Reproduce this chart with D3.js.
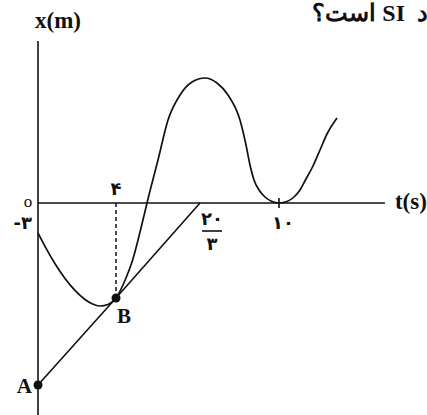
<!DOCTYPE html>
<html>
<head>
<meta charset="utf-8">
<script src="https://cdn.jsdelivr.net/npm/d3@7/dist/d3.min.js"></script>
<style>
  html, body { margin: 0; padding: 0; background: #fff; overflow: hidden; }
  svg { display: block; }
</style>
</head>
<body>
<script>
// ---- data ----
const curveT = [0, 0.359, 0.872, 1.385, 1.897, 2.41, 2.769, 3.179, 3.59, 4, 4.317, 4.508, 4.794, 4.984, 5.333, 5.651, 6.032, 6.413, 6.878, 7.384, 7.848, 8.354, 8.608, 8.776, 8.945, 9.156, 9.409, 9.705, 10, 10.338, 10.633, 10.886, 11.139, 11.435, 11.73, 12.025, 12.447];
const curveX = [-3, -4.34, -6.07, -7.54, -8.74, -9.65, -10.07, -10.3, -10.15, -9.5, -7.5, -5.9, -2.5, 0, 4.3, 8.3, 10.8, 12.1, 12.5, 12, 10.8, 8.3, 5.8, 3.8, 2.3, 1.3, 0.6, 0.15, 0, 0.15, 0.6, 1.3, 2.4, 3.7, 5.3, 6.9, 8.5];
const tangentT = [0, 4, 20/3];
const tangentX = [-18.2, -9.5, 0];
const pointNames = ["A", "B"];
const pointT = [0, 4];
const pointX = [-18.2, -9.5];
const tickT = [4, 20/3, 10];
const tickLabelsT = ["۴", "۲۰/۳", "۱۰"];
const tickX = [0, -3];
const tickLabelsX = ["o", "-۳"];
const axisRangeT = [0, 14.47];
const axisRangeX = [-21.5, 16.2];

const W = 427, H = 415;
const svg = d3.select("body").append("svg").attr("width", W).attr("height", H);

// schematic (not to scale) time axis, piecewise linear
const x = d3.scaleLinear().domain([0, 4, 20/3, 10]).range([38, 116, 200, 279]);
const y = d3.scaleLinear().domain([0, -3]).range([203, 233]);

const ink = "#111";
const serif = "'Liberation Serif', 'DejaVu Serif', serif";
const fa = "'DejaVu Sans', 'Noto Sans', sans-serif";

// title fragment (RTL, cut at the right edge)
svg.append("text")
  .attr("x", 428).attr("y", 21)
  .attr("direction", "rtl")
  .style("direction", "rtl")
  .style("white-space", "pre")
  .attr("text-anchor", "start")
  .attr("font-family", serif)
  .attr("font-weight", "bold")
  .attr("font-size", 24)
  .attr("fill", ink)
  .text("د  SI است؟");

// axes
svg.append("line")
  .attr("x1", x(0)).attr("x2", x(0))
  .attr("y1", y(axisRangeX[1])).attr("y2", y(axisRangeX[0]))
  .attr("stroke", ink).attr("stroke-width", 1.6);
svg.append("line")
  .attr("x1", x(axisRangeT[0])).attr("x2", x(axisRangeT[1]))
  .attr("y1", y(0)).attr("y2", y(0))
  .attr("stroke", ink).attr("stroke-width", 1.6);

// axis titles
svg.append("text")
  .attr("x", x(0) - 3).attr("y", y(axisRangeX[1]) - 13)
  .attr("font-family", serif).attr("font-weight", "bold").attr("font-size", 23)
  .attr("fill", ink).text("x(m)");
svg.append("text")
  .attr("x", x(axisRangeT[1]) + 10).attr("y", y(0) + 6)
  .attr("font-family", serif).attr("font-weight", "bold").attr("font-size", 23)
  .attr("fill", ink).text("t(s)");

// tick at t = 10
svg.append("line")
  .attr("x1", x(10)).attr("x2", x(10))
  .attr("y1", y(0) - 5).attr("y2", y(0) + 5)
  .attr("stroke", ink).attr("stroke-width", 1.6);

// dashed guide at t = 4
svg.append("line")
  .attr("x1", x(4)).attr("x2", x(4))
  .attr("y1", y(0)).attr("y2", y(pointX[1]))
  .attr("stroke", ink).attr("stroke-width", 1.5)
  .attr("stroke-dasharray", "4,3");

// tick labels on t axis
const tl = svg.append("g").attr("font-family", fa).attr("font-weight", "bold").attr("fill", ink);
tl.append("text").attr("x", x(tickT[0])).attr("y", y(0) - 8)
  .attr("text-anchor", "middle").attr("font-size", 18).text(tickLabelsT[0]);
{
  const parts = tickLabelsT[1].split("/");
  const cx = x(tickT[1]) + 12;
  tl.append("text").attr("x", cx).attr("y", y(0) + 22)
    .attr("text-anchor", "middle").attr("font-size", 18).text(parts[0]);
  tl.append("line").attr("x1", cx - 10).attr("x2", cx + 10)
    .attr("y1", y(0) + 28).attr("y2", y(0) + 28)
    .attr("stroke", ink).attr("stroke-width", 1.6);
  tl.append("text").attr("x", cx).attr("y", y(0) + 47)
    .attr("text-anchor", "middle").attr("font-size", 18).text(parts[1]);
}
tl.append("text").attr("x", x(tickT[2]) + 4).attr("y", y(0) + 26)
  .attr("text-anchor", "middle").attr("font-size", 18).text(tickLabelsT[2]);

// tick labels on x axis
svg.append("text").attr("x", x(0) - 10).attr("y", y(tickX[0]) + 4)
  .attr("text-anchor", "middle").attr("font-family", serif).attr("font-size", 17)
  .attr("fill", ink).text(tickLabelsX[0]);
svg.append("text").attr("x", x(0) - 6).attr("y", y(tickX[1]) - 4)
  .attr("text-anchor", "end").attr("font-family", fa).attr("font-weight", "bold").attr("font-size", 18)
  .attr("fill", ink).text(tickLabelsX[1]);

// curve
const pts = curveT.map((t, i) => [t, curveX[i]]);
svg.append("path")
  .datum(pts)
  .attr("fill", "none").attr("stroke", ink).attr("stroke-width", 1.7)
  .attr("d", d3.line().x(d => x(d[0])).y(d => y(d[1])).curve(d3.curveMonotoneX));

// tangent line
const tpts = tangentT.map((t, i) => [t, tangentX[i]]);
svg.append("path")
  .datum(tpts)
  .attr("fill", "none").attr("stroke", ink).attr("stroke-width", 1.6)
  .attr("d", d3.line().x(d => x(d[0])).y(d => y(d[1])));

// points A, B
pointNames.forEach((n, i) => {
  svg.append("circle").attr("cx", x(pointT[i])).attr("cy", y(pointX[i])).attr("r", 4.5).attr("fill", ink);
});
svg.append("text").attr("x", x(pointT[0]) - 6).attr("y", y(pointX[0]) + 8)
  .attr("text-anchor", "end").attr("font-family", serif).attr("font-weight", "bold").attr("font-size", 21)
  .attr("fill", ink).text(pointNames[0]);
svg.append("text").attr("x", x(pointT[1]) + 1).attr("y", y(pointX[1]) + 25)
  .attr("text-anchor", "start").attr("font-family", serif).attr("font-weight", "bold").attr("font-size", 21)
  .attr("fill", ink).text(pointNames[1]);
</script>
</body>
</html>
